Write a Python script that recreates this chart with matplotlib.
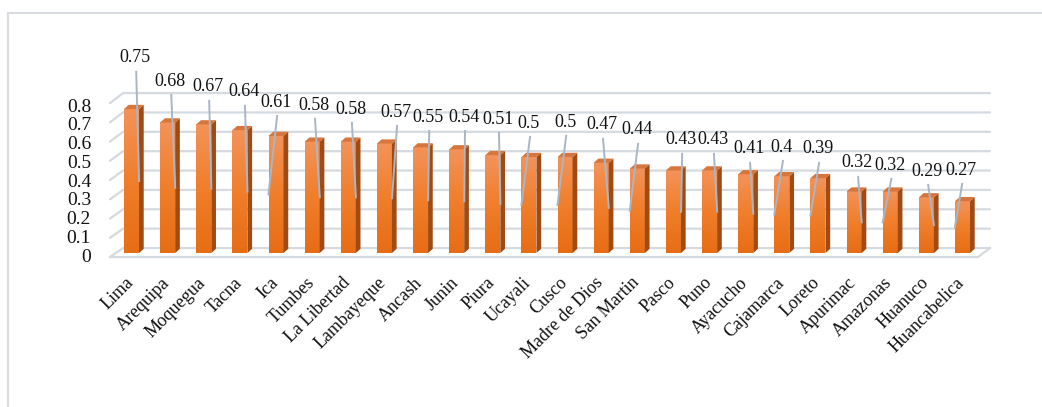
import numpy as np
import matplotlib
matplotlib.use("Agg")
import matplotlib.pyplot as plt
from matplotlib.patches import Polygon, Rectangle
from matplotlib.colors import LinearSegmentedColormap

plt.rcParams['font.family'] = ['Liberation Serif', 'DejaVu Serif']

# ---------------- data ----------------
regions = ["Lima", "Arequipa", "Moquegua", "Tacna", "Ica", "Tumbes", "La Libertad",
           "Lambayeque", "Ancash", "Junin", "Piura", "Ucayali", "Cusco",
           "Madre de Dios", "San Martin", "Pasco", "Puno", "Ayacucho", "Cajamarca",
           "Loreto", "Apurimac", "Amazonas", "Huanuco", "Huancabelica"]
values = [0.75, 0.68, 0.67, 0.64, 0.61, 0.58, 0.58, 0.57, 0.55, 0.54, 0.51, 0.50,
          0.50, 0.47, 0.44, 0.43, 0.43, 0.41, 0.40, 0.39, 0.32, 0.32, 0.29, 0.27]
y_ticks = [0, 0.1, 0.2, 0.3, 0.4, 0.5, 0.6, 0.7, 0.8]

# data-label placement (Excel auto layout): x offset from bar, height, leader side
label_dx = [0.10, 0.07, 0.12, 0.11, 0.0, 0.05, 0.07, 0.32, 0.21, 0.20, 0.14, 0.0,
            0.0, 0.02, -0.01, 0.21, 0.09, 0.09, 0.0, 0.0, 0.08, 0.0, 0.02, -0.04]
label_y = [1.016, 0.896, 0.865, 0.839, 0.786, 0.771, 0.750, 0.734, 0.708, 0.708,
           0.698, 0.677, 0.682, 0.667, 0.641, 0.589, 0.589, 0.542, 0.552, 0.542,
           0.469, 0.458, 0.427, 0.432]
leader_side = [1, 1, 1, 1, -1, 1, 1, 1, 1, 1, 1, -1, -1, 1, -1, 1, 1, 1, -1, -1,
               1, -1, 1, -1]

# ---------------- figure ----------------
fig = plt.figure(figsize=(10.42, 4.07), dpi=100)
ax = fig.add_axes([0, 0, 1, 1])
ax.set_xlim(-3.64, 25.20)
ax.set_ylim(-0.802, 1.318)
ax.axis('off')

# outer chart border
fig.patches.append(Rectangle((8 / 1042, -0.1), 1.2, 1 - 13 / 407 + 0.1,
                             transform=fig.transFigure, fill=False,
                             edgecolor='#d9dde2', lw=1.5, zorder=0))

n = len(values)
grid_c = '#d5dae0'
xl_front, xl_back, xr_back, xr_front = -0.595, -0.235, 23.76, 23.43

# gridlines on back wall with slanted left side wall
for g in y_ticks:
    by = 0.026 + 1.009 * g
    fy = -0.021 + 1.0025 * g
    ax.plot([xl_front, xl_back, xr_back], [fy, by, by], color=grid_c, lw=1.6,
            zorder=1, solid_capstyle='round')
# floor front edge
ax.plot([xl_front, xr_front, xr_back], [-0.021, -0.021, 0.026], color=grid_c,
        lw=1.6, zorder=1)

# y tick labels
for g in y_ticks:
    ax.text(-1.12, -0.021 + 0.977 * g, f"{g:g}", ha='right', va='center',
            fontsize=14, color='#111111')

# bars (pseudo 3D)
front_cmap = LinearSegmentedColormap.from_list(
    'front', ['#e66d14', '#f07e2b', '#f3935a'])
side_cmap = LinearSegmentedColormap.from_list('side', ['#8f410c', '#b05a1f'])
grad = np.linspace(0, 1, 256).reshape(-1, 1)
hw = 0.2075
dx, dy = 0.13, 0.022
for i, v in enumerate(values):
    x0, x1 = i - hw, i + hw
    ax.imshow(grad, cmap=front_cmap, origin='lower', aspect='auto',
              extent=[x0, x1, 0, v], zorder=3, interpolation='bilinear')
    side = Polygon([(x1, 0), (x1 + dx, dy), (x1 + dx, v + dy), (x1, v)],
                   closed=True, facecolor='#a04b13', edgecolor='none', zorder=3)
    ax.add_patch(side)
    top = Polygon([(x0, v), (x1, v), (x1 + dx, v + dy), (x0 + dx, v + dy)],
                  closed=True, facecolor='#d7763c', edgecolor='none', zorder=3)
    ax.add_patch(top)

# data labels with leader lines
for i, v in enumerate(values):
    lx = i + label_dx[i]
    ly = label_y[i]
    ex = i + leader_side[i] * 0.21
    ax.plot([lx + 0.03, ex], [ly - 0.072, v / 2], color='#a9b6c6', lw=1.4,
            zorder=4)
    ax.text(lx, ly, f"{v:g}", ha='center', va='center', fontsize=13,
            color='#111111', zorder=5)

# category labels
for i, name in enumerate(regions):
    ax.text(i - 0.18, -0.11, name, rotation=45, ha='right', va='top',
            rotation_mode='anchor', fontsize=13, color='#111111')

fig.savefig('out.png', dpi=100)
